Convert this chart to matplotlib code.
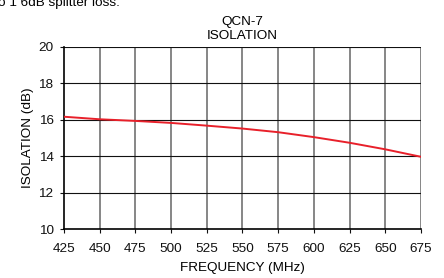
import matplotlib
matplotlib.use("Agg")
import matplotlib.pyplot as plt

freq = [425, 450, 475, 500, 525, 550, 575, 600, 625, 650, 675]
isolation = [16.17, 16.03, 15.94, 15.83, 15.68, 15.52, 15.32, 15.05, 14.74, 14.38, 13.97]
xticks = [425, 450, 475, 500, 525, 550, 575, 600, 625, 650, 675]
yticks = [10, 12, 14, 16, 18, 20]

plt.rcParams['font.family'] = ['Liberation Sans', 'DejaVu Sans']
fig = plt.figure(figsize=(4.44, 2.78), dpi=100)
ax = fig.add_axes([0.144, 0.176, 0.804, 0.655])

ax.plot(freq, isolation, color='#e8202a', lw=1.4, zorder=3)
ax.set_xlim(425, 675)
ax.set_ylim(10, 20)
ax.set_xticks(xticks)
ax.set_yticks(yticks)
for x in xticks[1:]:
    ax.axvline(x, color='#666666', lw=1.1, zorder=1)
for y in yticks[1:]:
    ax.axhline(y, color='#111111', lw=0.8, zorder=1)
for s in ['top', 'right']:
    ax.spines[s].set_visible(False)
for s in ['left', 'bottom']:
    ax.spines[s].set_linewidth(1.2)
    ax.spines[s].set_color('black')
ax.tick_params(direction='out', length=3, width=0.8, labelsize=9.7, colors='#111111')
ax.tick_params(axis='x', pad=7)
ax.tick_params(axis='y', pad=4.5)
ax.set_xlabel('FREQUENCY (MHz)', fontsize=9.7, labelpad=5)
ax.set_ylabel('ISOLATION (dB)', fontsize=9.7, labelpad=3)
ax.set_title('QCN-7\nISOLATION', fontsize=9.7, linespacing=1.2, pad=6)
fig.text(-0.004, 0.978, 'o 1 6dB splitter loss.', fontsize=9.7, va='baseline', ha='left')
fig.savefig('out.png', dpi=100)
